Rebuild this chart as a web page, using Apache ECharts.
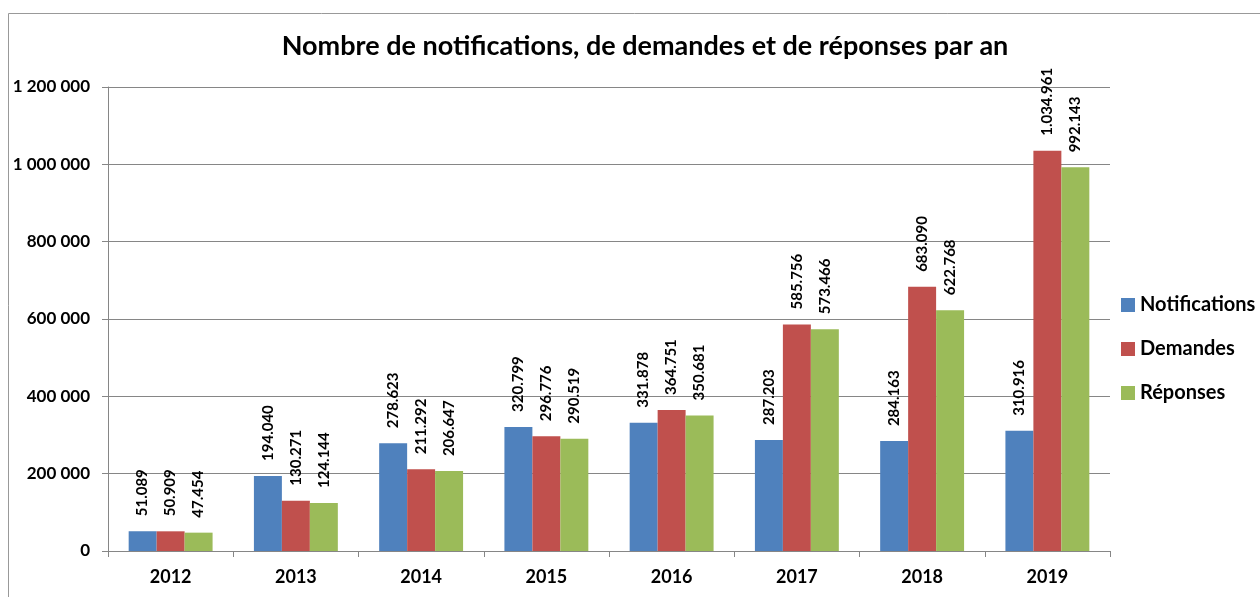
<!DOCTYPE html>
<html>
<head>
<meta charset="utf-8">
<script src="https://cdn.jsdelivr.net/npm/echarts@6/dist/echarts.min.js"></script>
<style>
  html, body { margin: 0; padding: 0; background: #fff; }
  #chart { width: 1260px; height: 597px; }
</style>
</head>
<body>
<div id="chart"></div>
<script>
var years = ['2012', '2013', '2014', '2015', '2016', '2017', '2018', '2019'];
var notifications = [51089, 194040, 278623, 320799, 331878, 287203, 284163, 310916];
var demandes = [50909, 130271, 211292, 296776, 364751, 585756, 683090, 1034961];
var reponses = [47454, 124144, 206647, 290519, 350681, 573466, 622768, 992143];

var font = 'Lato, "Open Sans", sans-serif';

function dotFmt(v) {
	return String(v).replace(/\B(?=(\d{3})+(?!\d))/g, '.');
}
function spaceFmt(v) {
	return String(v).replace(/\B(?=(\d{3})+(?!\d))/g, ' ');
}

var label = {
	show: true,
	position: 'top',
	rotate: 90,
	align: 'left',
	verticalAlign: 'middle',
	distance: 15,
	color: '#000',
	fontFamily: font,
	fontWeight: 'bold',
	fontSize: 15,
	formatter: function (p) { return dotFmt(p.value); }
};

var chart = echarts.init(document.getElementById('chart'));
var option = {
	animation: false,
	title: {
		text: 'Nombre de notifications, de demandes et de réponses par an',
		left: 640,
		textAlign: 'center',
		top: 28,
		textStyle: { fontFamily: font, fontWeight: 'bold', fontSize: 27, color: '#000' }
	},
	graphic: [{
		type: 'rect',
		shape: { x: 8.5, y: 13.5, width: 1300, height: 650 },
		style: { fill: 'none', stroke: '#999', lineWidth: 1 }
	}],
	legend: {
		orient: 'vertical',
		left: 1116,
		top: 290,
		itemWidth: 14,
		itemHeight: 14,
		itemGap: 24,
		icon: 'rect',
		textStyle: { fontFamily: font, fontWeight: 'bold', fontSize: 20, color: '#000' },
		data: ['Notifications', 'Demandes', 'Réponses']
	},
	grid: { left: 108, right: 150, top: 87, bottom: 46 },
	xAxis: {
		type: 'category',
		data: years,
		axisLine: { lineStyle: { color: '#868686' } },
		axisTick: { show: true, length: 6, lineStyle: { color: '#868686' } },
		axisLabel: { color: '#000', fontFamily: font, fontWeight: 'bold', fontSize: 18, margin: 17 }
	},
	yAxis: {
		type: 'value',
		min: 0,
		max: 1200000,
		interval: 200000,
		axisLine: { show: true, lineStyle: { color: '#868686' } },
		axisTick: { show: true, length: 6, lineStyle: { color: '#868686' } },
		splitLine: { lineStyle: { color: '#868686' } },
		axisLabel: {
			color: '#000', fontFamily: font, fontWeight: 'bold', fontSize: 17, margin: 18,
			formatter: spaceFmt
		}
	},
	series: [{
		name: 'Notifications',
		type: 'bar',
		data: notifications,
		barGap: '0%',
		barCategoryGap: '33%',
		itemStyle: { color: '#4F81BD' },
		label: label
	}, {
		name: 'Demandes',
		type: 'bar',
		data: demandes,
		itemStyle: { color: '#C0504D' },
		label: label
	}, {
		name: 'Réponses',
		type: 'bar',
		data: reponses,
		itemStyle: { color: '#9BBB59' },
		label: label
	}]
};
chart.setOption(option);
window.addEventListener('resize', chart.resize);
</script>
</body>
</html>
